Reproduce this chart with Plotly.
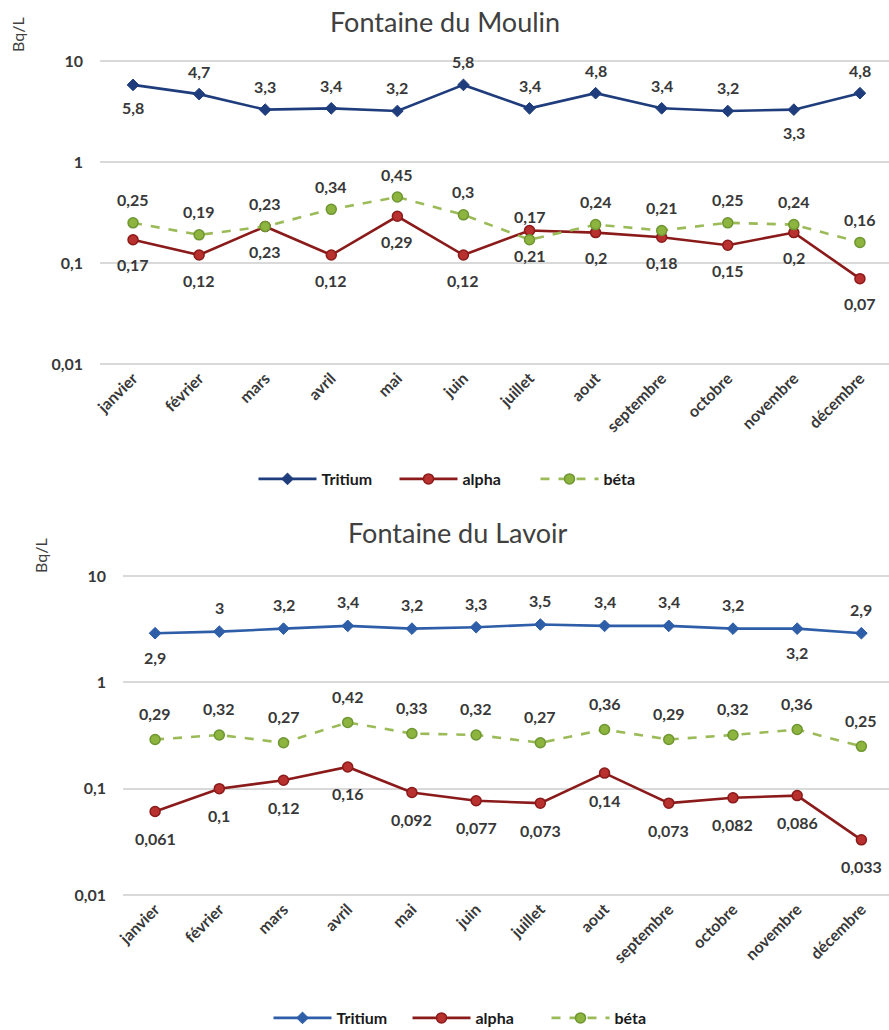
import math
import plotly.graph_objects as go

# ---------------- data ----------------
months = ["janvier", "février", "mars", "avril", "mai", "juin", "juillet",
          "aout", "septembre", "octobre", "novembre", "décembre"]

moulin_tritium = [5.8, 4.7, 3.3, 3.4, 3.2, 5.8, 3.4, 4.8, 3.4, 3.2, 3.3, 4.8]
moulin_alpha = [0.17, 0.12, 0.23, 0.12, 0.29, 0.12, 0.21, 0.2, 0.18, 0.15, 0.2, 0.07]
moulin_beta = [0.25, 0.19, 0.23, 0.34, 0.45, 0.3, 0.17, 0.24, 0.21, 0.25, 0.24, 0.16]

lavoir_tritium = [2.9, 3, 3.2, 3.4, 3.2, 3.3, 3.5, 3.4, 3.4, 3.2, 3.2, 2.9]
lavoir_alpha = [0.061, 0.1, 0.12, 0.16, 0.092, 0.077, 0.073, 0.14, 0.073, 0.082, 0.086, 0.033]
lavoir_beta = [0.29, 0.32, 0.27, 0.42, 0.33, 0.32, 0.27, 0.36, 0.29, 0.32, 0.36, 0.25]

ytick_vals = [0.01, 0.1, 1, 10]
ytick_text = ["0,01", "0,1", "1", "10"]

# label side (1 = above, -1 = below) – style lists
moulin_tritium_side = [-1, 1, 1, 1, 1, 1, 1, 1, 1, 1, -1, 1]
lavoir_tritium_side = [-1, 1, 1, 1, 1, 1, 1, 1, 1, 1, -1, 1]

# ---------------- style ----------------
W, H = 889, 1030
FONT = "Lato, 'Open Sans', sans-serif"
TXT = "#404040"
LBL = "#383838"
GRID = "#D9D9D9"
NAVY = "#1F3D7C"
BLUE2 = "#2E5EA8"
RED = "#8B1A1A"
RED_FILL = "#B8312F"
GREEN = "#9BBB59"
GREEN_FILL = "#8DB43E"
GREEN_EDGE = "#6E9631"


def px_x(p):
    return p / W


def px_y(p):
    return 1 - p / H


def fmt(v):
    return ("%g" % v).replace(".", ",")


fig = go.Figure()


def add_panel(xa, ya, leg, tritium, alpha, beta, tcolor):
    fig.add_trace(go.Scatter(
        x=months, y=tritium, name="Tritium", mode="lines+markers",
        xaxis=xa, yaxis=ya, legend=leg,
        line=dict(color=tcolor, width=2.6),
        marker=dict(symbol="diamond", size=9, color=tcolor,
                    line=dict(color=tcolor, width=1)),
    ))
    fig.add_trace(go.Scatter(
        x=months, y=alpha, name="alpha", mode="lines+markers",
        xaxis=xa, yaxis=ya, legend=leg,
        line=dict(color=RED, width=2.6),
        marker=dict(symbol="circle", size=10, color=RED_FILL,
                    line=dict(color=RED, width=1.5)),
    ))
    fig.add_trace(go.Scatter(
        x=months, y=beta, name="béta", mode="lines+markers",
        xaxis=xa, yaxis=ya, legend=leg,
        line=dict(color=GREEN, width=2.6, dash="dash"),
        marker=dict(symbol="circle", size=10, color=GREEN_FILL,
                    line=dict(color=GREEN_EDGE, width=1.5)),
    ))


add_panel("x", "y", "legend", moulin_tritium, moulin_alpha, moulin_beta, NAVY)
add_panel("x2", "y2", "legend2", lavoir_tritium, lavoir_alpha, lavoir_beta, BLUE2)

annotations = []
LBLFONT = dict(family=FONT, size=16, color=LBL, weight="bold")


def add_labels(xref, yref, values, sides, shift):
    for m, v, s in zip(months, values, sides):
        annotations.append(dict(
            x=m, y=math.log10(v), xref=xref, yref=yref, text=fmt(v), showarrow=False,
            yshift=shift * s, xanchor="center", yanchor="middle", font=LBLFONT,
        ))


add_labels("x", "y", moulin_tritium, moulin_tritium_side, 23)
add_labels("x", "y", moulin_alpha, [-1] * 12, 25)
add_labels("x", "y", moulin_beta, [1] * 12, 23)
add_labels("x2", "y2", lavoir_tritium, lavoir_tritium_side, 24)
add_labels("x2", "y2", lavoir_alpha, [-1] * 12, 27)
add_labels("x2", "y2", lavoir_beta, [1] * 12, 26)

# titles and axis titles
annotations += [
    dict(text="Fontaine du Moulin", x=px_x(445), y=px_y(21), xref="paper", yref="paper",
         xanchor="center", yanchor="middle",
         showarrow=False, font=dict(family=FONT, size=27, color=TXT)),
    dict(text="Fontaine du Lavoir", x=px_x(458), y=px_y(532), xref="paper", yref="paper",
         xanchor="center", yanchor="middle",
         showarrow=False, font=dict(family=FONT, size=27, color=TXT)),
    dict(text="Bq/L", x=px_x(18), y=px_y(35), xref="paper", yref="paper", textangle=-90,
         xanchor="center", yanchor="middle",
         showarrow=False, font=dict(family=FONT, size=16, color=TXT)),
    dict(text="Bq/L", x=px_x(40), y=px_y(556), xref="paper", yref="paper", textangle=-90,
         xanchor="center", yanchor="middle",
         showarrow=False, font=dict(family=FONT, size=16, color=TXT)),
]

xcommon = dict(type="category", tickangle=-45, showgrid=False, zeroline=False,
               showline=False, ticks="", tickfont=LBLFONT, automargin=False,
               fixedrange=True)
ycommon = dict(type="log", tickvals=ytick_vals, ticktext=ytick_text, showgrid=True,
               gridcolor=GRID, gridwidth=1.5, zeroline=False, showline=False, ticks="",
               tickfont=LBLFONT, range=[-2.01, 1.01], automargin=False,
               ticklabelstandoff=16)

legfont = dict(family=FONT, size=16, color="#1A1A1A", weight="bold")

fig.update_layout(
    width=W, height=H,
    margin=dict(l=0, r=0, t=0, b=0, autoexpand=False),
    paper_bgcolor="white", plot_bgcolor="white",
    font=dict(family=FONT, color=TXT),
    xaxis=dict(domain=[px_x(100), 1], range=[-0.5, 11.44], anchor="y", **xcommon),
    yaxis=dict(domain=[px_y(365), px_y(60)], anchor="x", **ycommon),
    xaxis2=dict(domain=[px_x(123), 1], range=[-0.5, 11.43], anchor="y2", **xcommon),
    yaxis2=dict(domain=[px_y(896), px_y(575)], anchor="x2", **ycommon),
    legend=dict(orientation="h", x=px_x(465), y=px_y(479), xanchor="center", yanchor="middle",
                font=legfont, itemwidth=58, entrywidth=68,
                bgcolor="rgba(0,0,0,0)"),
    legend2=dict(orientation="h", x=px_x(477), y=px_y(1018), xanchor="center", yanchor="middle",
                 font=legfont, itemwidth=58, entrywidth=66,
                 bgcolor="rgba(0,0,0,0)"),
    annotations=annotations,
    showlegend=True,
)

fig.write_html("out.html")
